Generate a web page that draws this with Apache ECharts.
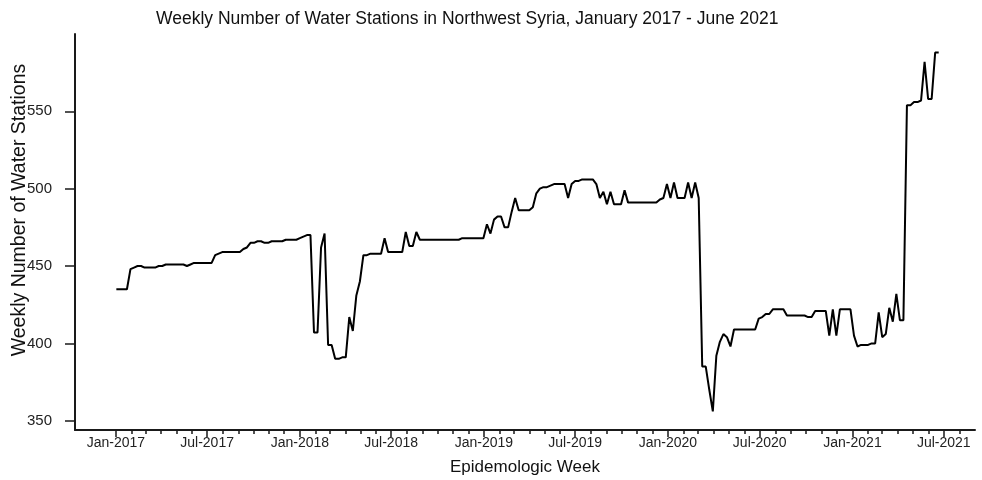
<!DOCTYPE html>
<html>
<head>
<meta charset="utf-8">
<script src="https://cdn.jsdelivr.net/npm/echarts@6/dist/echarts.min.js"></script>
<style>
  html, body { margin: 0; padding: 0; background: #fff; }
  #chart { width: 982px; height: 480px; }
</style>
</head>
<body>
<div id="chart"></div>
<script>
// First epidemiologic week in the series (Monday, 2 Jan 2017); one value per week
const firstWeek = '2017-01-02';

// Weekly number of water stations, Jan 2017 - Jun 2021
const stations2017 = [
  435, 435, 435, 435, 448, 449, 450, 450, 449, 449, 449, 449, 450, 450,
  451, 451, 451, 451, 451, 451, 450, 451, 452, 452, 452, 452, 452, 452,
  457, 458, 459, 459, 459, 459, 459, 459, 461, 462, 465, 465, 466, 466,
  465, 465, 466, 466, 466, 466, 467, 467, 467, 467
];
const stations2018 = [
  468, 469, 470, 470, 407, 407, 462, 471, 399, 399, 390, 390, 391, 391,
  417, 408, 431, 440, 457, 457, 458, 458, 458, 458, 468, 459, 459, 459,
  459, 459, 472, 463, 463, 472, 467, 467, 467, 467, 467, 467, 467, 467,
  467, 467, 467, 467, 468, 468, 468, 468, 468, 468
];
const stations2019 = [
  468, 477, 471, 480, 482, 482, 475, 475, 485, 494, 486, 486, 486, 486,
  488, 497, 500, 501, 501, 502, 503, 503, 503, 503, 494, 503, 505, 505,
  506, 506, 506, 506, 503, 494, 498, 490, 498, 490, 490, 490, 499, 491,
  491, 491, 491, 491, 491, 491, 491, 491, 493, 494
];
const stations2020 = [
  503, 494, 504, 494, 494, 494, 504, 494, 504, 494, 385, 385, 370, 356,
  392, 401, 406, 404, 398, 409, 409, 409, 409, 409, 409, 409, 416, 417,
  419, 419, 422, 422, 422, 422, 418, 418, 418, 418, 418, 418, 417, 417,
  421, 421, 421, 421, 405, 422, 405, 422, 422, 422, 422
];
const stations2021 = [
  405, 398, 399, 399, 399, 400, 400, 420, 404, 406, 423, 414, 432, 415,
  415, 554, 554, 556, 556, 557, 582, 558, 558, 588, 588
];

// Axis tick labels (first day of January and July)
const labelMonths = [
  '2017-01-01', '2017-07-01', '2018-01-01', '2018-07-01', '2019-01-01',
  '2019-07-01', '2020-01-01', '2020-07-01', '2021-01-01', '2021-07-01'
];
const yTickValues = [350, 400, 450, 500, 550];

const monthNames = ['Jan', 'Feb', 'Mar', 'Apr', 'May', 'Jun',
                    'Jul', 'Aug', 'Sep', 'Oct', 'Nov', 'Dec'];
const DAY = 86400000;
const toTime = s => Date.parse(s + 'T00:00:00Z');

const weeklyValues = [].concat(stations2017, stations2018, stations2019,
                               stations2020, stations2021);
const start = toTime(firstWeek);
const seriesData = weeklyValues.map((v, i) => [start + i * 7 * DAY, v]);

const xMin = toTime('2016-10-12');
const xMax = toTime('2021-09-01');
const majorTicks = labelMonths.map(toTime);

// monthly minor ticks from Jan 2017 to Aug 2021
const minorTicks = [];
for (let y = 2017; y <= 2021; y++) {
  for (let m = 0; m < 12; m++) {
    if (y === 2021 && m > 7) break;
    minorTicks.push(Date.UTC(y, m, 1));
  }
}

const fontFamily = '"Liberation Sans", Arial, Helvetica, sans-serif';
const axisColor = '#1a1a1a';

const chart = echarts.init(document.getElementById('chart'), null, { renderer: 'canvas' });
chart.setOption({
  backgroundColor: '#ffffff',
  animation: false,
  textStyle: { fontFamily: fontFamily },
  title: {
    text: 'Weekly Number of Water Stations in Northwest Syria, January 2017 - June 2021',
    left: 151,
    top: 5,
    textStyle: { fontSize: 17.5, fontWeight: 'normal', color: '#111', fontFamily: fontFamily }
  },
  grid: { left: 75, right: 7, top: 34, bottom: 50, containLabel: false, outerBoundsMode: 'none' },
  xAxis: [
    {
      type: 'value',
      min: xMin,
      max: xMax,
      name: 'Epidemologic Week',
      nameLocation: 'middle',
      nameGap: 29,
      nameMoveOverlap: false,
      nameTextStyle: { fontSize: 17, color: '#111', fontFamily: fontFamily },
      axisLine: { show: true, lineStyle: { color: axisColor, width: 2 } },
      axisTick: { show: true, length: 7, customValues: majorTicks,
                  lineStyle: { color: axisColor, width: 1.5 } },
      axisLabel: {
        customValues: majorTicks,
        margin: 6,
        fontSize: 14,
        color: '#222',
        fontFamily: fontFamily,
        formatter: v => {
          const d = new Date(v);
          return monthNames[d.getUTCMonth()] + '-' + d.getUTCFullYear();
        }
      },
      splitLine: { show: false }
    },
    {
      type: 'value',
      min: xMin,
      max: xMax,
      position: 'bottom',
      axisLine: { show: false },
      axisTick: { show: true, length: 4, customValues: minorTicks,
                  lineStyle: { color: axisColor, width: 1.5 } },
      axisLabel: { show: false },
      splitLine: { show: false }
    }
  ],
  yAxis: {
    type: 'value',
    min: 344,
    max: 600,
    name: 'Weekly Number of Water Stations',
    nameLocation: 'middle',
    nameGap: 45,
    nameRotate: 90,
    nameMoveOverlap: false,
    nameTextStyle: { fontSize: 19.5, color: '#111', fontFamily: fontFamily,
                     padding: [0, 0, 0, 44] },
    axisLine: { show: true, lineStyle: { color: axisColor, width: 2 } },
    axisTick: { show: true, length: 10, customValues: yTickValues,
                lineStyle: { color: axisColor, width: 1.5 } },
    axisLabel: { customValues: yTickValues, margin: 23, fontSize: 15,
                 color: '#222', fontFamily: fontFamily },
    splitLine: { show: false }
  },
  series: [{
    type: 'line',
    xAxisIndex: 0,
    data: seriesData,
    showSymbol: false,
    symbol: 'none',
    lineStyle: { color: '#000', width: 2 },
    silent: true
  }]
});
</script>
</body>
</html>
